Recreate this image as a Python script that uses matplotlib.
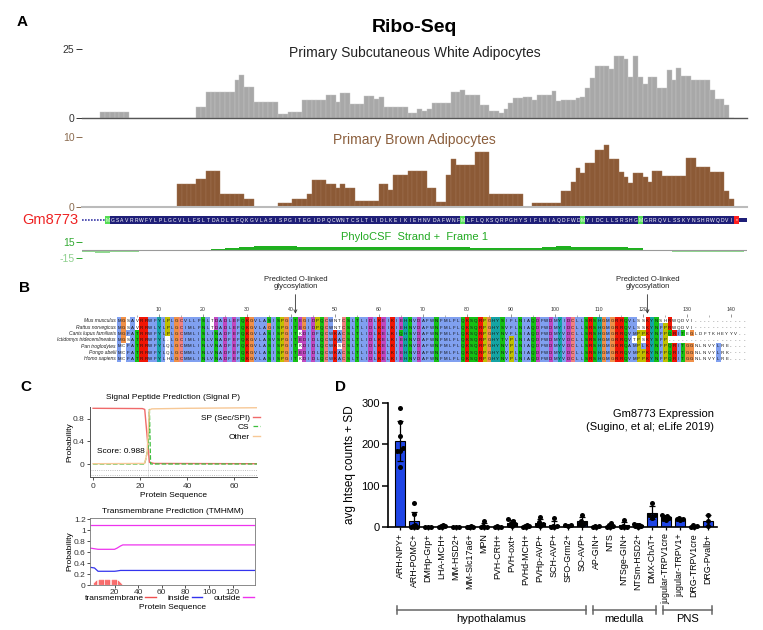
import numpy as np
import matplotlib.pyplot as plt
from matplotlib.patches import Rectangle
from matplotlib.lines import Line2D
from matplotlib.colors import to_rgb
from matplotlib.transforms import blended_transform_factory

plt.rcParams['font.family'] = ['Liberation Sans', 'DejaVu Sans']

# ---------------- panel A: Ribo-Seq tracks (one value per codon, first bin = codon -1)
codon_first = -1
white_reads = [2, 2, 2, 2, 2, 2, 0, 0, 0, 0,
               0, 0, 0, 0, 0, 0, 0, 0, 0, 0,
               4.1, 4.1, 9.3, 9.3, 9.3, 9.3, 9.3, 9.3, 13.7, 15.4,
               11.1, 11.1, 5.7, 5.7, 5.7, 5.7, 5.7, 1.3, 1.3, 2.3,
               2.3, 2.3, 6.7, 6.7, 6.7, 6.7, 6.7, 8.4, 8.4, 5.7,
               9.1, 9.1, 5, 5, 5, 7.9, 7.9, 6.8, 7.6, 3.9,
               3.9, 3.9, 3.9, 3.9, 1.7, 1.7, 3.3, 2.6, 3.4, 5.6,
               5.6, 5.6, 5.6, 9.4, 9.4, 10, 8.5, 8.2, 8.2, 4.6,
               4.6, 2.4, 2.4, 1.8, 3.3, 5.4, 7.2, 7.2, 7.7, 7.7,
               6.6, 8.5, 8.5, 8.5, 9.7, 6.0, 6.6, 6.6, 6.6, 7.2,
               7.5, 10.8, 14.5, 19, 19, 19, 17.8, 22.6, 22.6, 21.5,
               15, 22.3, 15, 12.3, 14.8, 14.8, 10.9, 10.9, 17.5, 13.6,
               18, 15.2, 15.2, 13.6, 13.6, 13.6, 13.6, 10, 6.9, 6.9,
               4.8, 0]
brown_reads = [0, 0, 0, 0, 0, 0, 0, 0, 0, 0,
               0, 0, 0, 0, 0, 0, 3.3, 3.3, 3.3, 3.3,
               4, 4, 5.2, 5.2, 5.2, 1.8, 1.8, 1.8, 1.8, 1.8,
               1.1, 1.1, 0, 0, 0, 0, 0, 0.5, 0.5, 0.5,
               1.1, 1.1, 1.1, 1.8, 3.9, 3.9, 3.9, 3.3, 3.3, 2.7,
               3.3, 2.7, 2.7, 0.8, 0.8, 0.8, 0.8, 0.8, 3.3, 3.3,
               2.4, 4.5, 4.5, 4.5, 5.1, 5.1, 5.1, 5.1, 2.7, 2.7,
               0.7, 0.7, 4.5, 6.9, 6, 6, 6, 6, 7.9, 7.9,
               7.9, 1.8, 1.8, 1.8, 1.8, 1.8, 1.8, 1.8, 0, 0,
               0.6, 0.6, 0.6, 0.6, 0.6, 0.6, 2.3, 2.3, 3.6, 5.5,
               4.9, 6.3, 6.3, 8.1, 8.1, 8.8, 6.9, 6.9, 5, 4.3,
               3.4, 4.9, 4.9, 4.3, 3.6, 5.1, 5.1, 4.4, 4.4, 4.4,
               4.4, 4.4, 7, 7, 5.7, 5.7, 5.7, 5, 5, 5,
               2.3, 1.1]
phylo_first = -5
phylo_step = 3
phylo_csf = [-3, -5, -3, -3, -2.5, -2.5, -2, -1.5, -1, 2,
             4, 6, 7, 8, 7, 6, 5, 5, 6, 5,
             6, 5, 6, 5, 6, 5, 5, 4, 4, 3,
             3, 4, 6, 7, 6, 6, 5, 5, 3, -1,
             -2, -4, -3, -4, -3, -4]
gene_name = "Gm8773"
tx_start, tx_end = -4.8, 133.7
protein = "MGSAVRRWFYLPLGCVLLFSLTDADLEFQKGVLASISPGITEGIDPQCWNTCSLTLIDLKEIKIEHNVDAFWNFMLFLQKSQRPGHYSIFLNIAQDFWDMYIDCLLSRSHGMGRRQVLSSKYNSHRWQDVI*"

# ---------------- panel B: alignment
species = ["Mus musculus", "Rattus norvegicus", "Canis lupus familiaris",
           "Ictidomys tridecemlineatus", "Pan troglodytes", "Pongo abelii", "Homo sapiens"]
alignment = [
    "MGSAVRRWFYLPLGCVLLFSLTDADLEFQKGVLASISPGITEGIDPQCWNTCSLTLIDLKEIKIEHNVDAFWNFMLFLQKSQRPGHYSIFLNIAQDFWDMYIDCLLSRSHGMGRRQVLSSKYNSHRWQDVI",
    "MGSAVRRWLYLPLGCIMLFNLTDADLEFQKGVLAGISPGITEGIDPQCWNTCSLTLIDLKEIKIEHNVDAFWNFMLFLQKSQRPGHYSVFLNIAQDFWDMYIDCLLSRSHGMGRRQVLSSKYNFPRWQDVI",
    "MGFATRRWFYLPLGCMMLISLINADFEFQKGVLASISPGITKDIDFQCWKACSLTLIDLKELKIQHSVDAFWNFMLFLQKSQRPGHYNVFLSIAQDFWDMYVDCLLSRSHGMGRRQVMPPKYNFPQRITEGLDFTKHEYYV",
    "MGSATRRWFYL-LGCIMLINLVNADFEFQKGVLASVSPGITEDIDLQCWKACSLTLIDLKELKIEHNVDAFWNFMLFLQKSQRPGHYTVPLNIAQDFWDMYVDCLLSRSHGMGRRQVTPSKYSFP",
    "MCFATRRWFYLQLGCMMLINLVNADFEFQKGVLASISPGITKDIDLQCWKSCSLTLIDLKELKIEHNVDAFWNFMLFLQKSQRPGHYNVPLNIAQDFWDMYVDCLLSRSHGMGRRQAMPLKYNFPQRITGGNLNVYLRE",
    "MCFATRRWFYLQLGCMMLINLVNADFEFQKGVLASISPGITEDIDLQCWKACSLTLIDLKELKIEHNVDAFWNFMLFLQKSQRPGHYNVPLNIAQDFWDMYVDCLLSRSHGMGRRQVMPPKYNFPQRITGGNLNVYLRK",
    "MCFATRRWFYLHLGCMMLINLVNADFEFQKGVLASISPGITKDIDLQCWKACSLTLIDLKELKIEHNVDAFWNFMLFLQKSQRPGHYNVPLNIAQDFWDMYVDCLLSRSHGMGRRQVMPPKYNFPQRITGGNLNVYLRE",
]
n_columns = 143
glyco_sites = [41, 121]

# ---------------- panel C: SignalP and TMHMM
sp_pos = [0, 21, 22, 23, 24, 26, 70]
sp_prob = [0.99, 0.985, 0.97, 0.5, 0.03, 0.01, 0.005]
cs_pos = [0, 22, 23.5, 24, 24.5, 70]
cs_prob = [0, 0, 0.3, 0.97, 0, 0]
other_pos = [0, 22, 23, 24, 25, 40, 70]
other_prob = [0.005, 0.01, 0.2, 0.96, 0.98, 0.99, 1.0]
signalp_score = 0.988

tm_pos = list(range(3, 27))
tm_prob = [0.03, 0.05, 0.07, 0.09, 0.09, 0.09, 0.09, 0.09, 0.09, 0.09, 0.09, 0.09,
           0.09, 0.09, 0.09, 0.09, 0.09, 0.09, 0.09, 0.09, 0.08, 0.06, 0.04, 0.02]
inside_pos = [0, 3, 6, 20, 22, 25, 139]
inside_prob = [0.32, 0.31, 0.25, 0.25, 0.255, 0.265, 0.265]
outside_pos = [0, 3, 6, 20, 22, 25, 27, 139]
outside_prob = [0.67, 0.66, 0.65, 0.65, 0.67, 0.71, 0.73, 0.73]
topology_pos = [0, 139]
topology_val = [1.1, 1.1]

# ---------------- panel D: expression
cell_types = ["ARH-NPY+", "ARH-POMC+", "DMHp-Grp+", "LHA-MCH+", "MM-HSD2+", "MM-Slc17a6+",
              "MPN", "PVH-CRH+", "PVH-oxt+", "PVHd-MCH+", "PVHp-AVP+", "SCH-AVP+",
              "SFO-Grm2+", "SO-AVP+", "AP-GIN+", "NTS", "NTSge-GIN+", "NTSm-HSD2+",
              "DMX-ChAT+", "jugular-TRPV1cre", "jugular-TRPV1+", "DRG-TRPV1cre", "DRG-Pvalb+"]
htseq_counts = [
    [287, 253, 219, 190, 185, 183, 145],
    [58, 32, 5, 2, 1, 0, 0],
    [1, 0.5, 0.5],
    [3, 2, 1, 4, 0],
    [1, 0.5, 0],
    [1, 2, 0.5, 1, 0],
    [14, 2, 1, 0, 0],
    [2, 1, 0, 1],
    [20, 15, 10, 5, 2, 8],
    [5, 2, 1, 0, 3],
    [25, 12, 5, 3, 8],
    [22, 3, 1, 2, 0],
    [6, 4, 3],
    [30, 15, 8, 5, 10],
    [3, 1, 0, 2],
    [10, 5, 2, 1, 0],
    [18, 2, 1, 0, 0],
    [8, 5, 3, 2, 1, 4],
    [58, 30, 22, 28],
    [28, 25, 20, 18, 22, 26],
    [22, 20, 18, 19],
    [5, 3, 1, 0],
    [28, 15, 2],
]
regions = [("hypothalamus", 0, 13), ("medulla", 14, 18), ("PNS", 19, 22)]

# ---------------- figure
W, H = 763, 630
fig = plt.figure(figsize=(W / 100, H / 100), dpi=100)


def px_axes(x0, y0, x1, y1):
    return fig.add_axes([x0 / W, 1 - y1 / H, (x1 - x0) / W, (y1 - y0) / H])


def track(y0, y1):
    ax = px_axes(82, y0, 747, y1)
    ax.set_xlim(tx_start, tx_end)
    for s in ['top', 'right', 'left']:
        ax.spines[s].set_visible(False)
    ax.set_xticks([])
    ax.patch.set_alpha(0)
    return ax


fig.text(22 / W, 1 - 22 / H, "A", fontsize=11, fontweight='bold', ha='center', va='center')
fig.text(414 / W, 1 - 27 / H, "Ribo-Seq", fontsize=14, fontweight='bold', ha='center', va='center')

# white adipocytes
ax = track(49, 118)
pos = np.arange(codon_first, codon_first + len(white_reads))
ax.bar(pos, white_reads, width=1, align='edge', color='#a8a8a8', edgecolor='#c6c6c6', linewidth=0.3)
ax.set_ylim(0, 25)
ax.set_yticks([0, 25])
ax.tick_params(axis='y', length=4, width=0.7, pad=1.5, labelsize=7.5, colors='#333')
ax.spines['bottom'].set_color('#555')
ax.spines['bottom'].set_linewidth(1)
ax.text(0.5, 0.94, "Primary Subcutaneous White Adipocytes", transform=ax.transAxes,
        ha='center', va='center', fontsize=10, color='#222')

# brown adipocytes
brown = '#8c5a36'
ax = track(137, 207)
ax.bar(pos, brown_reads, width=1, align='edge', color=brown, edgecolor='#a27555', linewidth=0.3)
ax.set_ylim(0, 10)
ax.set_yticks([0, 10])
ax.tick_params(axis='y', length=4, width=0.7, pad=1.5, labelsize=7.5, colors='#8b6b4f')
ax.spines['bottom'].set_color('#bbbbbb')
ax.spines['bottom'].set_linewidth(1.5)
ax.text(0.5, 0.955, "Primary Brown Adipocytes", transform=ax.transAxes,
        ha='center', va='center', fontsize=10, color='#8b5e3c')

# gene model
ax = px_axes(82, 213, 747, 227)
ax.set_xlim(tx_start, tx_end)
ax.set_ylim(-1, 1)
ax.axis('off')
navy = '#1f1f78'
ax.plot([tx_start, 0], [0, 0], color='#3a3aa8', lw=1.2, ls=(0, (1, 0.8)))
ax.add_patch(Rectangle((0, -0.5), len(protein), 1.0, color=navy, lw=0))
ax.add_patch(Rectangle((len(protein), -0.28), tx_end - len(protein), 0.56, color=navy, lw=0))
for i, aa in enumerate(protein):
    if aa == 'M':
        ax.add_patch(Rectangle((i, -0.5), 1, 1.0, color='#55dd55', lw=0))
    elif aa == '*':
        ax.add_patch(Rectangle((i, -0.5), 1, 1.0, color='#ff2020', lw=0))
    ax.text(i + 0.5, -0.02, aa, ha='center', va='center', fontsize=3.6, color='white')
fig.text(78 / W, 1 - 220 / H, gene_name, ha='right', va='center', fontsize=10.5, color='#ee2222')

# PhyloCSF
ax = track(242, 258)
ax.spines['bottom'].set_visible(False)
ppos = phylo_first + phylo_step * np.arange(len(phylo_csf))
pcol = ['#1fb01f' if v > 0 else '#90d890' for v in phylo_csf]
ax.bar(ppos, phylo_csf, width=phylo_step, align='edge', color=pcol, linewidth=0)
ax.axhline(0, color='#9a9a9a', lw=0.8)
ax.set_ylim(-15, 15)
ax.set_yticks([15, -15])
ax.set_yticklabels(['15', '-15'])
ax.tick_params(axis='y', length=4, width=0.7, pad=1.5, labelsize=7.5, colors='#33aa33')
ax.get_yticklabels()[1].set_color('#8fd08f')
ax.text(0.5, 1.31, "PhyloCSF  Strand +  Frame 1", transform=ax.transAxes,
        ha='center', va='center', fontsize=8, color='#22aa22')

# ---------------- panel B
fig.text(25 / W, 1 - 288 / H, "B", fontsize=11, fontweight='bold', ha='center', va='center')


def residue_colour(a, column):
    n = len(column)

    def frac(letters):
        return sum(ch in letters for ch in column) / n
    if a == 'G':
        return '#f09048'
    if a == 'P':
        return '#c0c000'
    if a == 'C' and frac('C') > 0.8:
        return '#f08080'
    if a in 'AILMFWVC' and frac('AILMFWVCHYP') > 0.5:
        return '#80a0f0'
    if a in 'KR' and frac('KRQ') > 0.5:
        return '#f01505'
    if a in 'ED' and frac('EDQN') > 0.5:
        return '#c048c0'
    if a in 'NQST' and frac('NQSTED') > 0.5:
        return '#15c015'
    if a in 'HY' and frac('HYFW') > 0.5:
        return '#15a4a4'
    return None


rows = [s.ljust(n_columns, '-') for s in alignment]
img = np.ones((len(rows), n_columns, 3))
for c in range(n_columns):
    column = [r[c] for r in rows]
    for r, a in enumerate(column):
        colr = residue_colour(a, column)
        if colr:
            img[r, c] = to_rgb(colr)

axb = px_axes(117.2, 280, 746.4, 364)
axb.imshow(img, extent=(0.5, n_columns + 0.5, len(rows) - 0.5, -0.5), aspect='auto',
           interpolation='nearest')
axb.set_xlim(0.5, n_columns + 0.5)
axb.set_ylim(6.83, -6.5)
axb.axis('off')
for r, seq in enumerate(rows):
    axb.text(0.2, r, species[r], ha='right', va='center', fontsize=3.6, style='italic', color='#222')
    for c, a in enumerate(seq):
        axb.text(c + 1, r + 0.05, a, ha='center', va='center', fontsize=3.2, color='#111')
ticks10 = np.arange(10, 141, 10)
axb.vlines(ticks10, -1.05, -0.65, color='#444', lw=0.4)
axb.vlines(ticks10 - 5, -0.9, -0.7, color='#777', lw=0.4)
for t in ticks10:
    axb.text(t, -1.8, str(t), ha='center', va='center', fontsize=3.8, color='#333')
for site in glyco_sites:
    axb.annotate("Predicted O-linked\nglycosylation", xy=(site, -1.15), xytext=(site, -5.95),
                 ha='center', va='center', fontsize=5.5, color='#222', linespacing=1.0,
                 arrowprops=dict(arrowstyle='->', color='#333', lw=0.6, shrinkA=1, shrinkB=0))

# ---------------- panel C
fig.text(26 / W, 1 - 387 / H, "C", fontsize=11, fontweight='bold', ha='center', va='center')
axc = px_axes(90, 407, 257, 477)
axc.plot(sp_pos, sp_prob, color='#f06a6a', lw=1.0, label='SP (Sec/SPI)')
axc.plot(cs_pos, cs_prob, color='#3cbf3c', lw=0.9, ls='--', label='CS')
axc.plot(other_pos, other_prob, color='#f7c896', lw=1.0, label='Other')
axc.axhline(-0.1, color='#aaaaaa', lw=0.6, ls=':')
axc.axhline(-0.2, color='#aaaaaa', lw=0.6, ls=':')
axc.axvline(23.5, ymin=0, ymax=0.95, color='#dddddd', lw=0.5, zorder=0)
axc.set_xlim(-1.3, 69.8)
axc.set_ylim(-0.231, 1.013)
axc.set_xticks([0, 20, 40, 60])
axc.set_yticks([0, 0.4, 0.8])
axc.set_yticklabels(['0', '0.4', '0.8'])
for s in ['top', 'right']:
    axc.spines[s].set_visible(False)
for s in ['left', 'bottom']:
    axc.spines[s].set_color('#555')
    axc.spines[s].set_linewidth(0.7)
axc.tick_params(labelsize=6, length=2.5, width=0.6, pad=1.5, colors='#333')
axc.text(0.5, 1.13, "Signal Peptide Prediction (Signal P)", transform=axc.transAxes,
         ha='center', va='center', fontsize=6)
axc.text(0.5, -0.27, "Protein Sequence", transform=axc.transAxes, ha='center', va='center', fontsize=6)
axc.text(-0.12, 0.5, "Probability", transform=axc.transAxes, ha='center', va='center',
         rotation=90, fontsize=6)
axc.text(1.5, 0.23, "Score: %.3f" % signalp_score, ha='left', va='center', fontsize=6)
axc.legend(loc='upper right', bbox_to_anchor=(1.04, 0.95), frameon=False, fontsize=6,
           markerfirst=False, handlelength=0.9, handletextpad=0.4, labelspacing=0.2,
           borderaxespad=0)

axt = px_axes(90, 518, 255, 585)
axt.bar(tm_pos, tm_prob, width=0.8, color='#f04848', edgecolor='#ff9090', linewidth=0.3)
axt.plot(inside_pos, inside_prob, color='#3333ee', lw=0.9)
axt.plot(outside_pos, outside_prob, color='#ee33ee', lw=0.9)
axt.plot(topology_pos, topology_val, color='#ee33ee', lw=0.9)
axt.set_xlim(-0.8, 139)
axt.set_ylim(0, 1.22)
axt.set_xticks([20, 40, 60, 80, 100, 120])
axt.set_yticks([0, 0.2, 0.4, 0.6, 0.8, 1.0, 1.2])
axt.set_yticklabels(['0', '0.2', '0.4', '0.6', '0.8', '1', '1.2'])
for s in axt.spines.values():
    s.set_color('#777')
    s.set_linewidth(0.6)
axt.tick_params(labelsize=6, length=2, width=0.6, pad=1, colors='#333')
axt.text(0.5, 1.09, "Transmembrane Prediction (TMHMM)", transform=axt.transAxes,
         ha='center', va='center', fontsize=6)
axt.text(-0.12, 0.5, "Probability", transform=axt.transAxes, ha='center', va='center',
         rotation=90, fontsize=6)
handles = [Line2D([], [], color='#f05050', lw=1), Line2D([], [], color='#3333ee', lw=1),
           Line2D([], [], color='#ee33ee', lw=1)]
axt.legend(handles, ['transmembrane', 'inside', 'outside'], loc='center',
           bbox_to_anchor=(0.48, -0.19), ncol=3, frameon=False, fontsize=6, markerfirst=False,
           handlelength=1.3, handletextpad=0.2, columnspacing=1.4, borderaxespad=0)
axt.text(0.5, -0.34, "Protein Sequence", transform=axt.transAxes, ha='center', va='center', fontsize=6)

# ---------------- panel D
fig.text(340 / W, 1 - 387 / H, "D", fontsize=11, fontweight='bold', ha='center', va='center')
axd = px_axes(388, 403, 717, 527)
xd = np.arange(len(cell_types))
means = np.array([np.mean(v) for v in htseq_counts])
sds = np.array([np.std(v, ddof=1) for v in htseq_counts])
axd.bar(xd, means, width=0.77, color='#1f45e6', edgecolor='black', linewidth=0.8, zorder=2)
axd.errorbar(xd, means, yerr=[np.minimum(sds, means), sds], fmt='none', ecolor='black',
             elinewidth=0.9, capsize=2.2, capthick=0.9, zorder=3)


def spread(vals, close=12):
    offs = np.zeros(len(vals))
    prev, k = None, 0
    for idx in np.argsort(vals):
        k = k + 1 if prev is not None and vals[idx] - prev < close else 0
        offs[idx] = [0, -0.2, 0.2, -0.1, 0.1, -0.28, 0.28][k % 7]
        prev = vals[idx]
    return offs


for i, vals in enumerate(htseq_counts):
    vals = np.array(vals, dtype=float)
    axd.scatter(i + spread(vals), vals, s=13, color='black', zorder=4, clip_on=False, linewidths=0)
axd.set_xlim(-0.86, 22.64)
axd.set_ylim(0, 300)
axd.set_yticks([0, 100, 200, 300])
axd.set_xticks(xd)
axd.set_xticklabels(cell_types, rotation=90, fontsize=6.4)
for s in ['top', 'right']:
    axd.spines[s].set_visible(False)
for s in ['left', 'bottom']:
    axd.spines[s].set_linewidth(1.2)
axd.tick_params(axis='y', labelsize=8, length=4, width=1.1, pad=2)
axd.tick_params(axis='x', length=2.5, width=0.9, pad=2)
axd.set_ylabel("avg htseq counts + SD", fontsize=8.5, labelpad=4)
axd.text(0.99, 0.95, "Gm8773 Expression\n(Sugino, et al; eLife 2019)", transform=axd.transAxes,
         ha='right', va='top', fontsize=8, linespacing=1.35)
bt = blended_transform_factory(axd.transData, axd.transAxes)
for name, first, last in regions:
    x0, x1 = first - 0.25, last + 0.3
    axd.plot([x0, x1], [-0.669, -0.669], color='#666', lw=1.1, transform=bt, clip_on=False)
    for xe in (x0, x1):
        axd.plot([xe, xe], [-0.64, -0.70], color='#666', lw=1.1, transform=bt, clip_on=False)
    axd.text((first + last) / 2, -0.745, name, transform=bt, ha='center', va='center', fontsize=8)

fig.savefig("out.png", dpi=100, facecolor='white')
